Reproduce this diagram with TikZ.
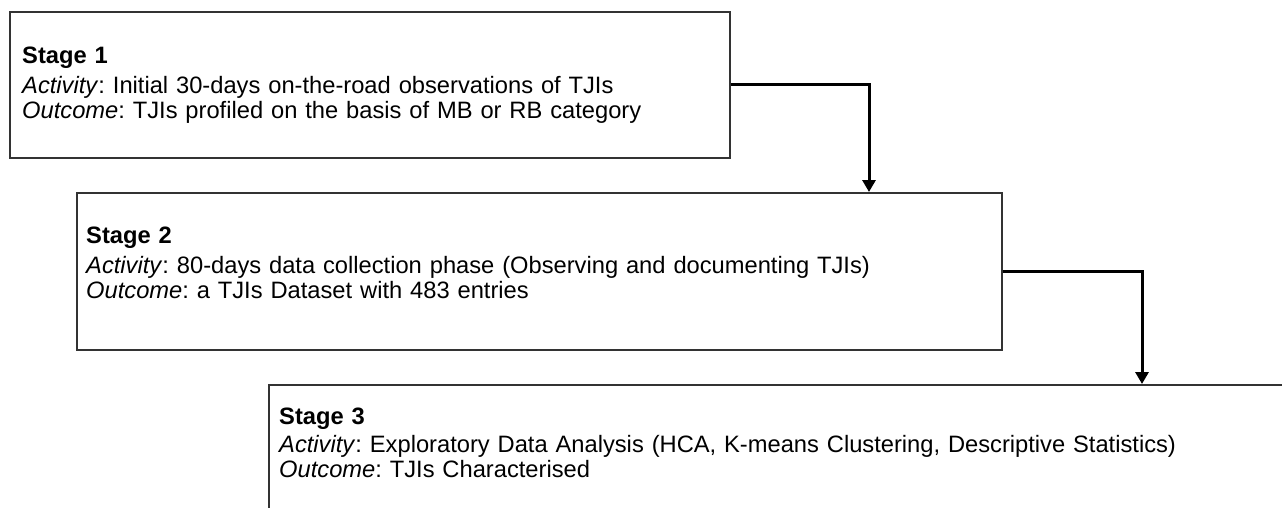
\documentclass[tikz,border=0pt]{standalone}
\usepackage{fontspec}
\setmainfont{Liberation Sans}
\usetikzlibrary{arrows.meta,positioning}
\frenchspacing

\begin{document}
\begin{tikzpicture}[x=1pt,y=-1pt,
  stagebox/.style={draw=black!80, line width=1.6pt, anchor=north west, inner sep=0pt},
  stagetext/.style={anchor=base west, align=left, text width=1000pt, inner sep=0pt,
    font=\fontsize{23.7}{25}\selectfont},
  flowarrow/.style={line width=3pt, -{Triangle[width=13pt,length=12pt]}}]
\useasboundingbox (0,0) rectangle (1282,507);
\clip (0,0) rectangle (1282,507);

% stage boxes
\node[stagebox, minimum width=720pt, minimum height=146pt] (box1) at (9,11) {};
\node[stagebox, minimum width=925pt, minimum height=157pt] (box2) at (76,192) {};
\node[stagebox, minimum width=1060pt, minimum height=160pt] (box3) at (268,384) {};

% texts
\node[stagetext] (text1) at ([shift={(13,52)}]box1.north west)
  {\textbf{Stage 1}\\[5pt]
   \textit{Activity}: Initial 30-days on-the-road observations of TJIs\\
   \textit{Outcome}: TJIs profiled on the basis of MB or RB category};
\node[stagetext] (text2) at ([shift={(10,51)}]box2.north west)
  {\textbf{Stage 2}\\[5pt]
   \textit{Activity}: 80-days data collection phase (Observing and documenting TJIs)\\
   \textit{Outcome}: a TJIs Dataset with 483 entries};
\node[stagetext] (text3) at ([shift={(11,40)}]box3.north west)
  {\textbf{Stage 3}\\[3pt]
   \textit{Activity}: Exploratory Data Analysis (HCA, K-means Clustering, Descriptive Statistics)\\
   \textit{Outcome}: TJIs Characterised};

% connectors
\coordinate (drop1) at (869,192);
\coordinate (drop2) at (1142,384);
\draw[flowarrow] (box1.east) -| (drop1);
\draw[flowarrow] (box2.east) -| (drop2);
\end{tikzpicture}
\end{document}
